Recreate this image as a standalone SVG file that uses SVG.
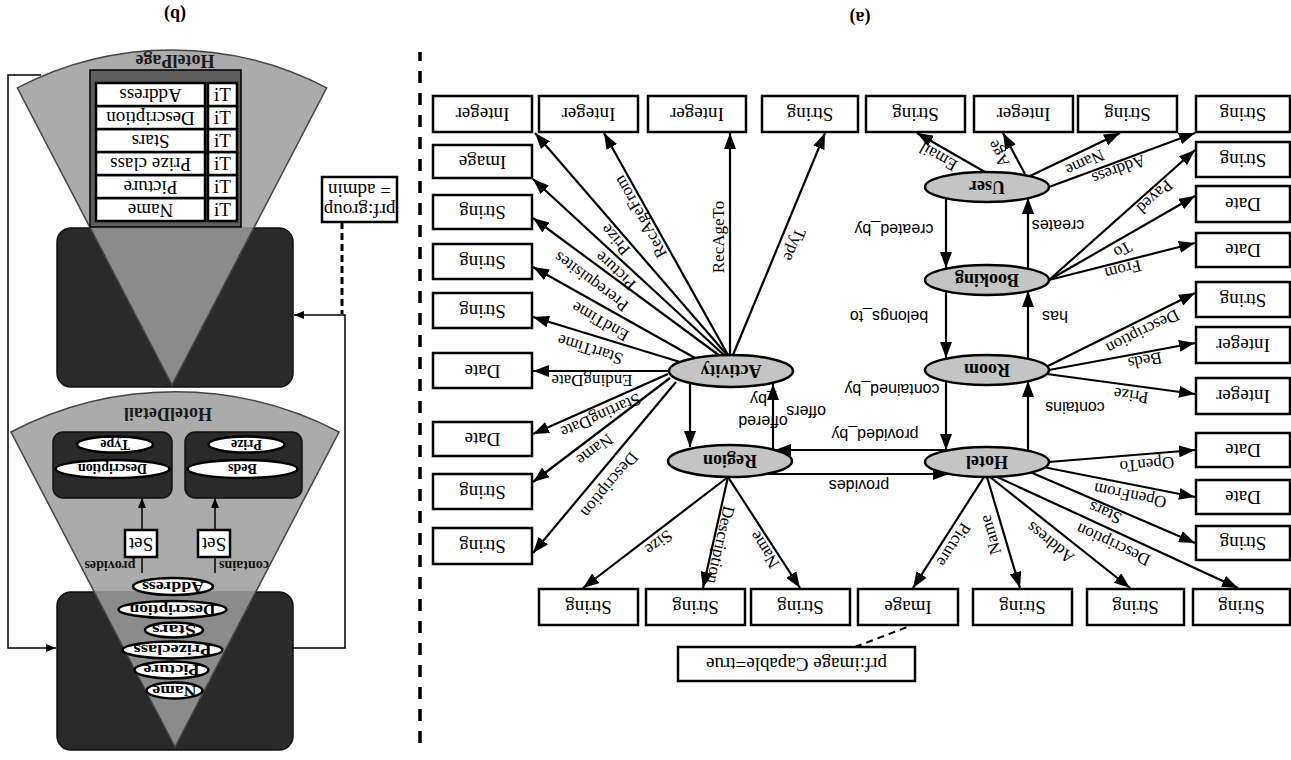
<svg xmlns="http://www.w3.org/2000/svg" width="1291" height="760" viewBox="0 0 1291 760">
<style>
.box{fill:#fff;stroke:#000;stroke-width:2.5}
.bt{font-family:"Liberation Serif",serif;font-size:19px;text-anchor:middle}
.el{fill:#c4c4c4;stroke:#000;stroke-width:2.5}
.et{font-family:"Liberation Serif",serif;font-size:18px;font-weight:bold;text-anchor:middle}
.e{stroke:#000;stroke-width:2.2;fill:none;marker-end:url(#ah)}
.l{font-family:"Liberation Serif",serif;font-size:17px;text-anchor:middle}
.s{font-family:"Liberation Sans",sans-serif;font-size:16px;text-anchor:middle}
.dark{fill:#2a2a2a;stroke:#111;stroke-width:1.5}
.wedge{fill:#9c9c9c;fill-opacity:0.85;stroke:#444;stroke-width:1.5}
.we{fill:#fff;stroke:#000;stroke-width:2.5}
.wt{font-family:"Liberation Serif",serif;font-size:14px;font-weight:bold;text-anchor:middle}
.thin{stroke:#000;stroke-width:1.5;fill:none}
</style>
<defs>
<marker id="ah" markerUnits="userSpaceOnUse" markerWidth="16" markerHeight="12" refX="16" refY="6" orient="auto"><path d="M0,0 L16,6 L0,12 z" fill="#000"/></marker>
<marker id="ahs" markerUnits="userSpaceOnUse" markerWidth="10" markerHeight="8" refX="10" refY="4" orient="auto"><path d="M0,0 L10,4 L0,8 z" fill="#000"/></marker>
</defs>
<g transform="rotate(180 645.5 380)">
<text x="431" y="748" class="et" font-size="17">(a)</text>
<text x="1116" y="751" class="et" font-size="17">(b)</text>
<line x1="871" y1="17" x2="871" y2="708" stroke="#000" stroke-width="3.5" stroke-dasharray="12 10"/>

<g id="connectors">
<path class="e" d="M558,405 L466,627"/>
<path class="e" d="M561,405 L561,627"/>
<path class="e" d="M563,405 L687,627"/>
<path class="e" d="M564,405 L756,627"/>
<path class="e" d="M566,404 L758,581"/>
<path class="e" d="M571,404 L758,542"/>
<path class="e" d="M596,402 L758,493"/>
<path class="e" d="M611,398 L758,443"/>
<path class="e" d="M622,389 L758,389"/>
<path class="e" d="M623,386 L758,326"/>
<path class="e" d="M621,382 L758,278"/>
<path class="e" d="M615,378 L758,207"/>
<path class="e" d="M563,283 L708,172"/>
<path class="e" d="M563,283 L588,172"/>
<path class="e" d="M563,283 L491,172"/>
<path class="e" d="M307,283 L378,172"/>
<path class="e" d="M304,283 L271,172"/>
<path class="e" d="M301,283 L161,172"/>
<path class="e" d="M296,284 L53,172"/>
<path class="e" d="M261,288 L96,217"/>
<path class="e" d="M248,293 L96,263"/>
<path class="e" d="M242,298 L96,310"/>
<path class="e" d="M244,386 L96,366"/>
<path class="e" d="M242,390 L96,417"/>
<path class="e" d="M243,394 L96,467"/>
<path class="e" d="M242,480 L96,517"/>
<path class="e" d="M242,480 L96,564"/>
<path class="e" d="M242,480 L96,610"/>
<path class="e" d="M242,573 L96,627"/>
<path class="e" d="M261,584 L171,627"/>
<path class="e" d="M266,586 L288,627"/>
<path class="e" d="M306,588 L374,627"/>
<path class="e" d="M345,379 L345,310"/>
<path class="e" d="M263,310 L263,379"/>
<path class="e" d="M345,469 L345,402"/>
<path class="e" d="M263,402 L263,469"/>
<path class="e" d="M345,562 L345,492"/>
<path class="e" d="M263,492 L263,562"/>
<path class="e" d="M341,310 L516,310"/>
<path class="e" d="M525,286 L342,286"/>
<path class="e" d="M601,377 L601,313"/>
<path class="e" d="M518,311 L518,376"/>
<line x1="436" y1="113" x2="381" y2="134" stroke="#000" stroke-width="2" stroke-dasharray="7 5"/>

<text class="l" transform="translate(353 603) rotate(29.8)" dy="0.35em">Email</text>
<text class="l" transform="translate(293 606) rotate(61)" dy="0.35em">Age</text>
<text class="l" transform="translate(206 597) rotate(-25)" dy="0.35em">Name</text>
<text class="l" transform="translate(172 590) rotate(-20.3)" dy="0.35em">Address</text>
<text class="l" transform="translate(136 563) rotate(-41.9)" dy="0.35em">Payed</text>
<text class="l" transform="translate(168 510) rotate(-30)" dy="0.35em">To</text>
<text class="l" transform="translate(168 490) rotate(-14.3)" dy="0.35em">From</text>
<text class="l" transform="translate(148 428) rotate(-26.6)" dy="0.35em">Description</text>
<text class="l" transform="translate(146 399) rotate(-10.5)" dy="0.35em">Beds</text>
<text class="l" transform="translate(160 364) rotate(7.7)" dy="0.35em">Prize</text>
<text class="l" transform="translate(144 295) rotate(-4.7)" dy="0.35em">OpenTo</text>
<text class="l" transform="translate(161 264) rotate(11.2)" dy="0.35em">OpenFrom</text>
<text class="l" transform="translate(186 247) rotate(23.4)" dy="0.35em">Stars</text>
<text class="l" transform="translate(178 215) rotate(24.9)" dy="0.35em">Description</text>
<text class="l" transform="translate(241 217) rotate(38.7)" dy="0.35em">Address</text>
<text class="l" transform="translate(301 225) rotate(73.6)" dy="0.35em">Name</text>
<text class="l" transform="translate(337 215) rotate(-57.6)" dy="0.35em">Picture</text>
<text class="l" transform="translate(632 217) rotate(-37.7)" dy="0.35em">Size</text>
<text class="l" transform="translate(570 215) rotate(-77.4)" dy="0.35em">Description</text>
<text class="l" transform="translate(527 210) rotate(57.3)" dy="0.35em">Name</text>
<text class="l" transform="translate(496 515) rotate(-67.5)" dy="0.35em">Type</text>
<text class="l" transform="translate(573 523) rotate(90)" dy="0.35em">RecAgeTo</text>
<text class="l" transform="translate(651 543) rotate(60.8)" dy="0.35em">RecAgeFrom</text>
<text class="l" transform="translate(676 520) rotate(49.1)" dy="0.35em">Prize</text>
<text class="l" transform="translate(676 489) rotate(42.7)" dy="0.35em">Picture</text>
<text class="l" transform="translate(700 478) rotate(36.6)" dy="0.35em">Prerequisites</text>
<text class="l" transform="translate(691 438) rotate(29.5)" dy="0.35em">EndTime</text>
<text class="l" transform="translate(701 410) rotate(17.1)" dy="0.35em">StartTime</text>
<text class="l" transform="translate(699 379)" dy="0.35em">EndingDate</text>
<text class="l" transform="translate(690 344) rotate(-24)" dy="0.35em">StartingDate</text>
<text class="l" transform="translate(696 310) rotate(-37)" dy="0.35em">Name</text>
<text class="l" transform="translate(681 275) rotate(-50.3)" dy="0.35em">Description</text>
<text class="s" x="397" y="536">created_by</text>
<text class="s" x="233" y="540">creates</text>
<text class="s" x="402" y="449">belongs_to</text>
<text class="s" x="236" y="449">has</text>
<text class="s" x="399" y="376">contained_by</text>
<text class="s" x="216" y="358">contains</text>
<text class="s" x="416" y="331">provided_by</text>
<text class="s" x="432" y="280">provides</text>
<text class="s" x="528" y="344" text-anchor="start">offered</text>
<text class="s" x="528" y="366" text-anchor="start">_by</text>
<text class="s" x="485" y="354">offers</text>
</g>

<g id="n-activity"><ellipse class="el" cx="560" cy="389" rx="62" ry="16"/><text class="et" x="560" y="395">Activity</text></g>
<g id="n-region"><ellipse class="el" cx="561" cy="299" rx="62" ry="16"/><text class="et" x="561" y="305">Region</text></g>
<g id="n-hotel"><ellipse class="el" cx="304" cy="298" rx="62" ry="15"/><text class="et" x="304" y="304">Hotel</text></g>
<g id="n-room"><ellipse class="el" cx="304" cy="390" rx="62" ry="15"/><text class="et" x="304" y="396">Room</text></g>
<g id="n-booking"><ellipse class="el" cx="304" cy="480" rx="62" ry="15"/><text class="et" x="304" y="486">Booking</text></g>
<g id="n-user"><ellipse class="el" cx="304" cy="573" rx="62" ry="15"/><text class="et" x="304" y="579">User</text></g>

<g id="b1"><rect class="box" x="759" y="628" width="99" height="36"/><text class="bt" x="808.5" y="652">Integer</text></g>
<g id="b2"><rect class="box" x="653" y="628" width="99" height="36"/><text class="bt" x="702.5" y="652">Integer</text></g>
<g id="b3"><rect class="box" x="545" y="628" width="98" height="36"/><text class="bt" x="594" y="652">Integer</text></g>
<g id="b4"><rect class="box" x="433" y="628" width="96" height="36"/><text class="bt" x="481" y="652">String</text></g>
<g id="b5"><rect class="box" x="326" y="628" width="99" height="36"/><text class="bt" x="375.5" y="652">String</text></g>
<g id="b6"><rect class="box" x="218" y="628" width="99" height="36"/><text class="bt" x="267.5" y="652">Integer</text></g>
<g id="b7"><rect class="box" x="114" y="628" width="99" height="36"/><text class="bt" x="163.5" y="652">String</text></g>
<g id="b8"><rect class="box" x="1" y="628" width="94" height="36"/><text class="bt" x="48" y="652">String</text></g>
<g id="b9"><rect class="box" x="759" y="582" width="99" height="33"/><text class="bt" x="808.5" y="604.5">Image</text></g>
<g id="b10"><rect class="box" x="759" y="531" width="99" height="34"/><text class="bt" x="808.5" y="554">String</text></g>
<g id="b11"><rect class="box" x="759" y="481" width="99" height="35"/><text class="bt" x="808.5" y="504.5">String</text></g>
<g id="b12"><rect class="box" x="759" y="432" width="99" height="35"/><text class="bt" x="808.5" y="455.5">String</text></g>
<g id="b13"><rect class="box" x="759" y="372" width="99" height="35"/><text class="bt" x="808.5" y="395.5">Date</text></g>
<g id="b14"><rect class="box" x="759" y="304" width="99" height="34"/><text class="bt" x="808.5" y="327">Date</text></g>
<g id="b15"><rect class="box" x="759" y="251" width="99" height="35"/><text class="bt" x="808.5" y="274.5">String</text></g>
<g id="b16"><rect class="box" x="759" y="196" width="99" height="36"/><text class="bt" x="808.5" y="220">String</text></g>
<g id="b17"><rect class="box" x="653" y="135" width="99" height="36"/><text class="bt" x="702.5" y="159">String</text></g>
<g id="b18"><rect class="box" x="546" y="135" width="99" height="36"/><text class="bt" x="595.5" y="159">String</text></g>
<g id="b19"><rect class="box" x="441" y="135" width="99" height="36"/><text class="bt" x="490.5" y="159">String</text></g>
<g id="b20"><rect class="box" x="333" y="135" width="100" height="36"/><text class="bt" x="383" y="159">Image</text></g>
<g id="b21"><rect class="box" x="219" y="135" width="99" height="36"/><text class="bt" x="268.5" y="159">String</text></g>
<g id="b22"><rect class="box" x="107" y="135" width="97" height="36"/><text class="bt" x="155.5" y="159">String</text></g>
<g id="b23"><rect class="box" x="1" y="135" width="97" height="36"/><text class="bt" x="49.5" y="159">String</text></g>
<g id="b24"><rect class="box" x="1" y="583" width="94" height="35"/><text class="bt" x="48" y="606.5">String</text></g>
<g id="b25"><rect class="box" x="1" y="538" width="94" height="36"/><text class="bt" x="48" y="562">Date</text></g>
<g id="b26"><rect class="box" x="1" y="493" width="94" height="34"/><text class="bt" x="48" y="516">Date</text></g>
<g id="b27"><rect class="box" x="1" y="443" width="94" height="35"/><text class="bt" x="48" y="466.5">String</text></g>
<g id="b28"><rect class="box" x="1" y="397" width="94" height="36"/><text class="bt" x="48" y="421">Integer</text></g>
<g id="b29"><rect class="box" x="1" y="346" width="94" height="36"/><text class="bt" x="48" y="370">Integer</text></g>
<g id="b30"><rect class="box" x="1" y="293" width="94" height="34"/><text class="bt" x="48" y="316">Date</text></g>
<g id="b31"><rect class="box" x="1" y="246" width="94" height="34"/><text class="bt" x="48" y="269">Date</text></g>
<g id="b32"><rect class="box" x="1" y="200" width="94" height="34"/><text class="bt" x="48" y="223">String</text></g>
<g id="n-imgcap"><rect class="box" x="376" y="79" width="237" height="34" stroke-width="2"/><text class="bt" x="494.5" y="102" font-size="17">prf:image Capable=true</text></g>

<g id="p-hotelpage">
<rect class="dark" x="998" y="373" width="236" height="159" rx="14"/>
<path class="wedge" d="M1119,375 L964.3,672.1 A335,335 0 0 0 1273.7,672.1 Z"/>
<rect x="1050" y="533" width="151" height="157" fill="#5e5e5e" stroke="#000" stroke-width="1.5"/>
<text x="1116" y="705" class="et" font-size="15" fill="#1a1a1a">HotelPage</text>
</g>
<g id="p-table">
<rect class="box" stroke-width="1.5" x="1086" y="539" width="109" height="23"/><text class="bt" font-size="17" x="1140.5" y="556">Name</text>
<rect class="box" stroke-width="1.5" x="1086" y="562" width="109" height="23"/><text class="bt" font-size="17" x="1140.5" y="579">Picture</text>
<rect class="box" stroke-width="1.5" x="1086" y="585" width="109" height="23"/><text class="bt" font-size="17" x="1140.5" y="602">Prize class</text>
<rect class="box" stroke-width="1.5" x="1086" y="608" width="109" height="23"/><text class="bt" font-size="17" x="1140.5" y="625">Stars</text>
<rect class="box" stroke-width="1.5" x="1086" y="631" width="109" height="23"/><text class="bt" font-size="17" x="1140.5" y="648">Description</text>
<rect class="box" stroke-width="1.5" x="1086" y="654" width="109" height="23"/><text class="bt" font-size="17" x="1140.5" y="671">Address</text>
<rect class="box" stroke-width="1.5" x="1054" y="539" width="29" height="23"/><text class="bt" font-size="16" x="1068.5" y="550.5" dy="0.35em" transform="rotate(180 1068.5 550.5)">iT</text>
<rect class="box" stroke-width="1.5" x="1054" y="562" width="29" height="23"/><text class="bt" font-size="16" x="1068.5" y="573.5" dy="0.35em" transform="rotate(180 1068.5 573.5)">iT</text>
<rect class="box" stroke-width="1.5" x="1054" y="585" width="29" height="23"/><text class="bt" font-size="16" x="1068.5" y="596.5" dy="0.35em" transform="rotate(180 1068.5 596.5)">iT</text>
<rect class="box" stroke-width="1.5" x="1054" y="608" width="29" height="23"/><text class="bt" font-size="16" x="1068.5" y="619.5" dy="0.35em" transform="rotate(180 1068.5 619.5)">iT</text>
<rect class="box" stroke-width="1.5" x="1054" y="631" width="29" height="23"/><text class="bt" font-size="16" x="1068.5" y="642.5" dy="0.35em" transform="rotate(180 1068.5 642.5)">iT</text>
<rect class="box" stroke-width="1.5" x="1054" y="654" width="29" height="23"/><text class="bt" font-size="16" x="1068.5" y="665.5" dy="0.35em" transform="rotate(180 1068.5 665.5)">iT</text>
</g>
<g id="p-group"><rect class="box" stroke-width="1.5" x="894" y="538" width="75" height="45"/><text class="bt" font-size="16" x="931.5" y="556">prf:group</text><text class="bt" font-size="16" x="931.5" y="576">= admin</text></g>

<g id="p-hoteldetail">
<rect class="dark" x="998" y="10" width="236" height="158" rx="14"/>
<path class="wedge" d="M1116,13 L952,328 A355,355 0 0 0 1280,328 Z"/>
<text x="1123" y="352" class="et" font-size="15" fill="#1a1a1a">HotelDetail</text>
</g>
<g id="p-rooms">
<rect class="dark" x="989" y="262" width="117" height="66" rx="10"/>
<ellipse class="we" stroke-width="1.5" cx="1048.5" cy="291" rx="55" ry="9"/><text class="wt" font-size="15" x="1048.5" y="296">Beds</text>
<ellipse class="we" stroke-width="1.5" cx="1044.5" cy="315.5" rx="38" ry="8"/><text class="wt" font-size="15" x="1044.5" y="320.5">Prize</text>
</g>
<g id="p-acts">
<rect class="dark" x="1119" y="262" width="119" height="66" rx="10"/>
<ellipse class="we" stroke-width="1.5" cx="1178.5" cy="291" rx="57" ry="9"/><text class="wt" font-size="15" x="1178.5" y="296">Description</text>
<ellipse class="we" stroke-width="1.5" cx="1176" cy="315.5" rx="38" ry="8"/><text class="wt" font-size="15" x="1176" y="320.5">Type</text>
</g>
<g id="p-set1"><rect class="box" stroke-width="1.5" x="1061" y="203" width="32" height="27"/><text class="bt" font-size="17" x="1077" y="222">Set</text></g>
<g id="p-set2"><rect class="box" stroke-width="1.5" x="1134" y="203" width="32" height="27"/><text class="bt" font-size="17" x="1150" y="222">Set</text></g>
<g id="p-attrs">
<ellipse class="we" cx="1116.5" cy="69.5" rx="28" ry="8"/><text class="wt" x="1116.5" y="74.5" textLength="44" lengthAdjust="spacingAndGlyphs">Name</text>
<ellipse class="we" cx="1119.5" cy="90" rx="37" ry="8.5"/><text class="wt" x="1119.5" y="95" textLength="56" lengthAdjust="spacingAndGlyphs">Picture</text>
<ellipse class="we" cx="1118.5" cy="110" rx="50" ry="8.5"/><text class="wt" x="1118.5" y="115" textLength="78" lengthAdjust="spacingAndGlyphs">Prizeclass</text>
<ellipse class="we" cx="1117" cy="130" rx="29" ry="7.5"/><text class="wt" x="1117" y="135" textLength="44" lengthAdjust="spacingAndGlyphs">Stars</text>
<ellipse class="we" cx="1118.5" cy="150.5" rx="54" ry="8.5"/><text class="wt" x="1118.5" y="155.5" textLength="86" lengthAdjust="spacingAndGlyphs">Description</text>
<ellipse class="we" cx="1118" cy="173.5" rx="40" ry="8.5"/><text class="wt" x="1118" y="178.5" textLength="62" lengthAdjust="spacingAndGlyphs">Address</text>
</g>
<g id="p-connectors">
<path class="thin" d="M1076,230 L1076,262" marker-end="url(#ahs)"/>
<path class="thin" d="M1149,230 L1149,262" marker-end="url(#ahs)"/>
<path class="thin" d="M1076,187 L1076,203"/>
<path class="thin" d="M1149,187 L1149,203"/>
<text class="wt" font-size="13" x="1047" y="199" fill="#111">contains</text>
<text class="wt" font-size="13" x="1181" y="199" fill="#111">provides</text>
<path class="thin" d="M998,112 L946,112 L946,445 L997,445" marker-end="url(#ahs)"/>
<path class="thin" d="M1250,685 L1283,685 L1283,112 L1235,112" marker-end="url(#ahs)"/>
<line x1="949" y1="538" x2="949" y2="446" stroke="#000" stroke-width="3" stroke-dasharray="7 4"/>
</g>
</g>
</svg>
